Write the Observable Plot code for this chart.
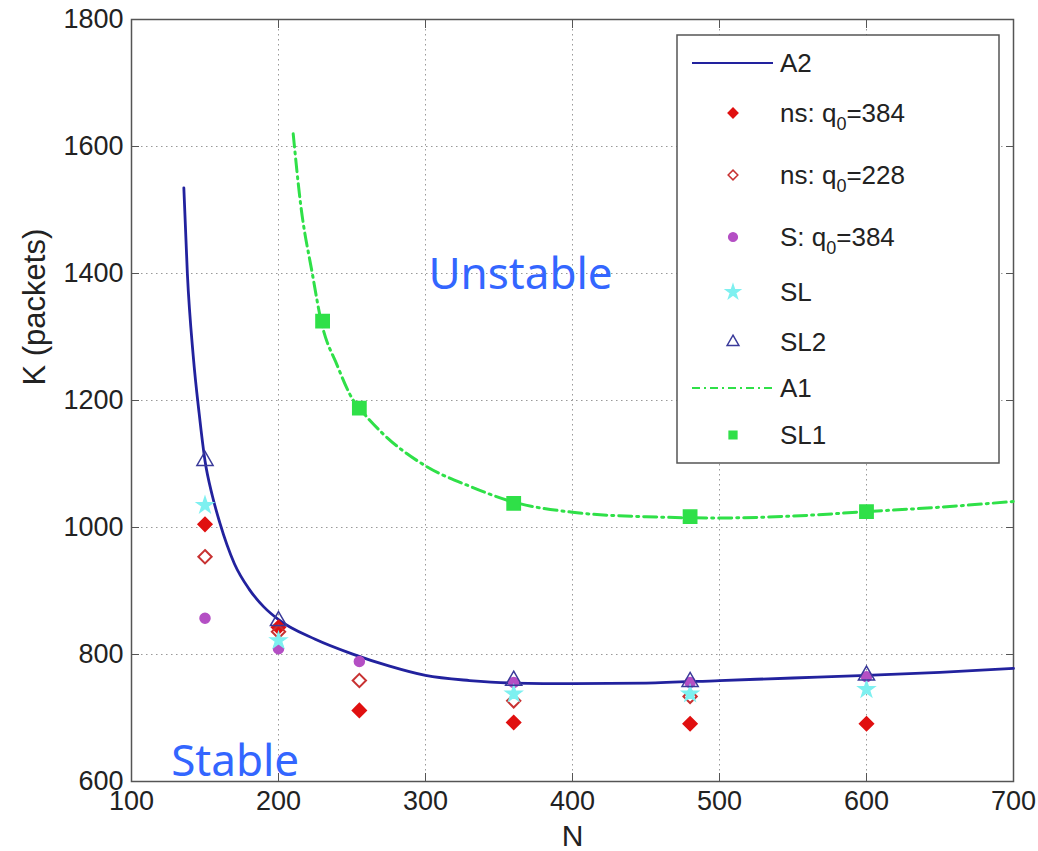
<!DOCTYPE html>
<html><head><meta charset="utf-8">
<script src="https://cdn.jsdelivr.net/npm/d3@7"></script>
<script src="https://cdn.jsdelivr.net/npm/@observablehq/plot@0.6"></script>
<style>body{margin:0;background:#fff}</style>
</head><body><div id="chart"></div>
<script>
// A2 analytical curve
const a2N = [135.6,138,142,146,150,155,160,170,180,190,200,225,250,275,300,330,360,400,450,500,550,600,650,700];
const a2K = [1535,1400,1270,1180,1105,1050,1008,943,903,875,855,824,801,782,767,759,755,754,755,759,763,767,772,778];
// A1 analytical curve
const a1N = [210,215,223,229,240,251,255,270,300,330,360,400,450,500,550,600,650,700];
const a1K = [1620,1510,1400,1325,1255,1200,1188,1150,1097,1065,1040,1024,1017,1015,1018,1025,1032,1041];
// simulation points
const ns384N = [150,200,255,360,480,600];
const ns384K = [1005,843,712,693,691,691];
const ns228N = [150,200,255,360,480];
const ns228K = [954,836,759,727,734];
const sN = [150,200,255,360,480,600];
const sK = [857,809,789,756,756,765];
const slN = [150,200,360,480,600];
const slK = [1035,822,738,738,745];
const sl2N = [150,200,360,480,600];
const sl2K = [1105,853,759,757,767];
const sl1N = [230,255,360,480,600];
const sl1K = [1325,1188,1038,1017,1025];
const xTicks = [100,200,300,400,500,600,700];
const yTicks = [600,800,1000,1200,1400,1600,1800];
const regionLabels = [{N:302,K:1376,text:"Unstable"},{N:127,K:609,text:"Stable"}];

const zip = (xs, ys) => xs.map((x,i)=>({N:x,K:ys[i]}));

const C = {navy:"#22229e", red:"#e01010", dred:"#c83232", purple:"#b44fc4", cyan:"#7ef0f0", tri:"#3a3a9a", green:"#2fe048", txt:"#3366ff"};
const FONT = "Liberation Sans, Arial, sans-serif";

const plot = Plot.plot({
  width: 1038, height: 851,
  marginLeft: 131, marginRight: 25, marginTop: 19, marginBottom: 70,
  style: {fontFamily: FONT, background: "#fff"},
  x: {domain:[100,700]},
  y: {domain:[600,1800]},
  marks: [
    Plot.gridX(xTicks, {stroke:"#999", strokeOpacity:1, strokeDasharray:"1.5,3.5"}),
    Plot.gridY(yTicks, {stroke:"#999", strokeOpacity:1, strokeDasharray:"1.5,3.5"}),
    Plot.axisX(xTicks, {anchor:"bottom", tickSize:8, dy:-8, text:null, label:null, stroke:"#555"}),
    Plot.axisX(xTicks, {anchor:"top", tickSize:8, dy:8, text:null, label:null, stroke:"#555"}),
    Plot.axisY(yTicks, {anchor:"left", tickSize:8, dx:8, text:null, label:null, stroke:"#555"}),
    Plot.axisY(yTicks, {anchor:"right", tickSize:8, dx:-8, text:null, label:null, stroke:"#555"}),
    Plot.axisX(xTicks, {anchor:"bottom", tickSize:0, tickPadding:9, label:null, fontSize:27, fill:"#222", tickFormat:d=>String(d)}),
    Plot.axisY(yTicks, {anchor:"left", tickSize:0, tickPadding:8, label:null, fontSize:27, fill:"#222", tickFormat:d=>String(d)}),
    Plot.frame({stroke:"#555", strokeWidth:1.5}),
    Plot.line(zip(a2N,a2K), {x:"N", y:"K", stroke:C.navy, strokeWidth:2.8, curve:"monotone-x"}),
    Plot.dot(zip(ns384N,ns384K), {x:"N", y:"K", symbol:"diamond2", r:6.3, fill:C.red, stroke:C.red}),
    Plot.dot(zip(ns228N,ns228K), {x:"N", y:"K", symbol:"diamond2", r:6, fill:"none", stroke:C.dred, strokeWidth:2}),
    Plot.dot(zip(sN,sK), {x:"N", y:"K", symbol:"circle", r:5, fill:C.purple, stroke:C.purple}),
    Plot.dot(zip(slN,slK), {x:"N", y:"K", symbol:"star", r:5, fill:C.cyan, stroke:C.cyan}),
    Plot.dot(zip(sl2N,sl2K), {x:"N", y:"K", symbol:"triangle", r:6, fill:"none", stroke:C.tri, strokeWidth:1.5}),
    Plot.line(zip(a1N,a1K), {x:"N", y:"K", stroke:C.green, strokeWidth:3, strokeDasharray:"13,5,2,5", curve:"monotone-x"}),
    Plot.dot(zip(sl1N,sl1K), {x:"N", y:"K", symbol:"square", r:7.5, fill:C.green, stroke:C.green}),
    Plot.text(regionLabels, {x:"N", y:"K", text:"text", fill:C.txt, fontSize:44, textAnchor:"start", lineAnchor:"bottom", fontFamily:"Noto Sans"}),
    Plot.text(["N"], {frameAnchor:"bottom", dy:64, lineAnchor:"bottom", fontSize:30, fill:"#222"}),
    Plot.text(["K (packets)"], {frameAnchor:"left", dx:-96, dy:-15, rotate:-90, fontSize:31, fill:"#222"})
  ]
});
document.getElementById("chart").appendChild(plot);

// legend
const svg = d3.select(plot);
const lg = svg.append("g").attr("font-family", FONT).attr("font-size", 26).attr("fill", "#222").attr("text-anchor","start");
lg.append("rect").attr("x",677).attr("y",35).attr("width",322).attr("height",428).attr("fill","#fff").attr("stroke","#555").attr("stroke-width",1.5);
const items = [
  {label:["A2"], type:"line", color:C.navy, dash:null},
  {label:["ns: q","0","=384"], type:"sym", sym:d3.symbolDiamond2, fill:C.red, stroke:C.red},
  {label:["ns: q","0","=228"], type:"sym", sym:d3.symbolDiamond2, fill:"none", stroke:C.dred},
  {label:["S: q","0","=384"], type:"sym", sym:d3.symbolCircle, fill:C.purple, stroke:C.purple},
  {label:["SL"], type:"sym", sym:d3.symbolStar, fill:C.cyan, stroke:C.cyan},
  {label:["SL2"], type:"sym", sym:d3.symbolTriangle, fill:"none", stroke:C.tri},
  {label:["A1"], type:"line", color:C.green, dash:"8,4,2,4"},
  {label:["SL1"], type:"sym", sym:d3.symbolSquare, fill:C.green, stroke:C.green}
];
const rowY = [63,113,175,237,292,342,388,435];
items.forEach((it,i) => {
  const y = rowY[i];
  if (it.type === "line") {
    lg.append("line").attr("x1",692).attr("x2",773).attr("y1",y).attr("y2",y)
      .attr("stroke",it.color).attr("stroke-width",2).attr("stroke-dasharray",it.dash);
  } else {
    lg.append("path").attr("transform",`translate(733,${y})`).attr("d", d3.symbol(it.sym, 60)())
      .attr("fill",it.fill).attr("stroke",it.stroke).attr("stroke-width",1.5);
  }
  const t = lg.append("text").attr("x",780).attr("y",y+9).attr("text-anchor","start");
  t.append("tspan").text(it.label[0]);
  if (it.label.length > 1) {
    t.append("tspan").attr("dy",8).attr("font-size",18).text(it.label[1]);
    t.append("tspan").attr("dy",-8).text(it.label[2]);
  }
});
</script>
</body></html>
